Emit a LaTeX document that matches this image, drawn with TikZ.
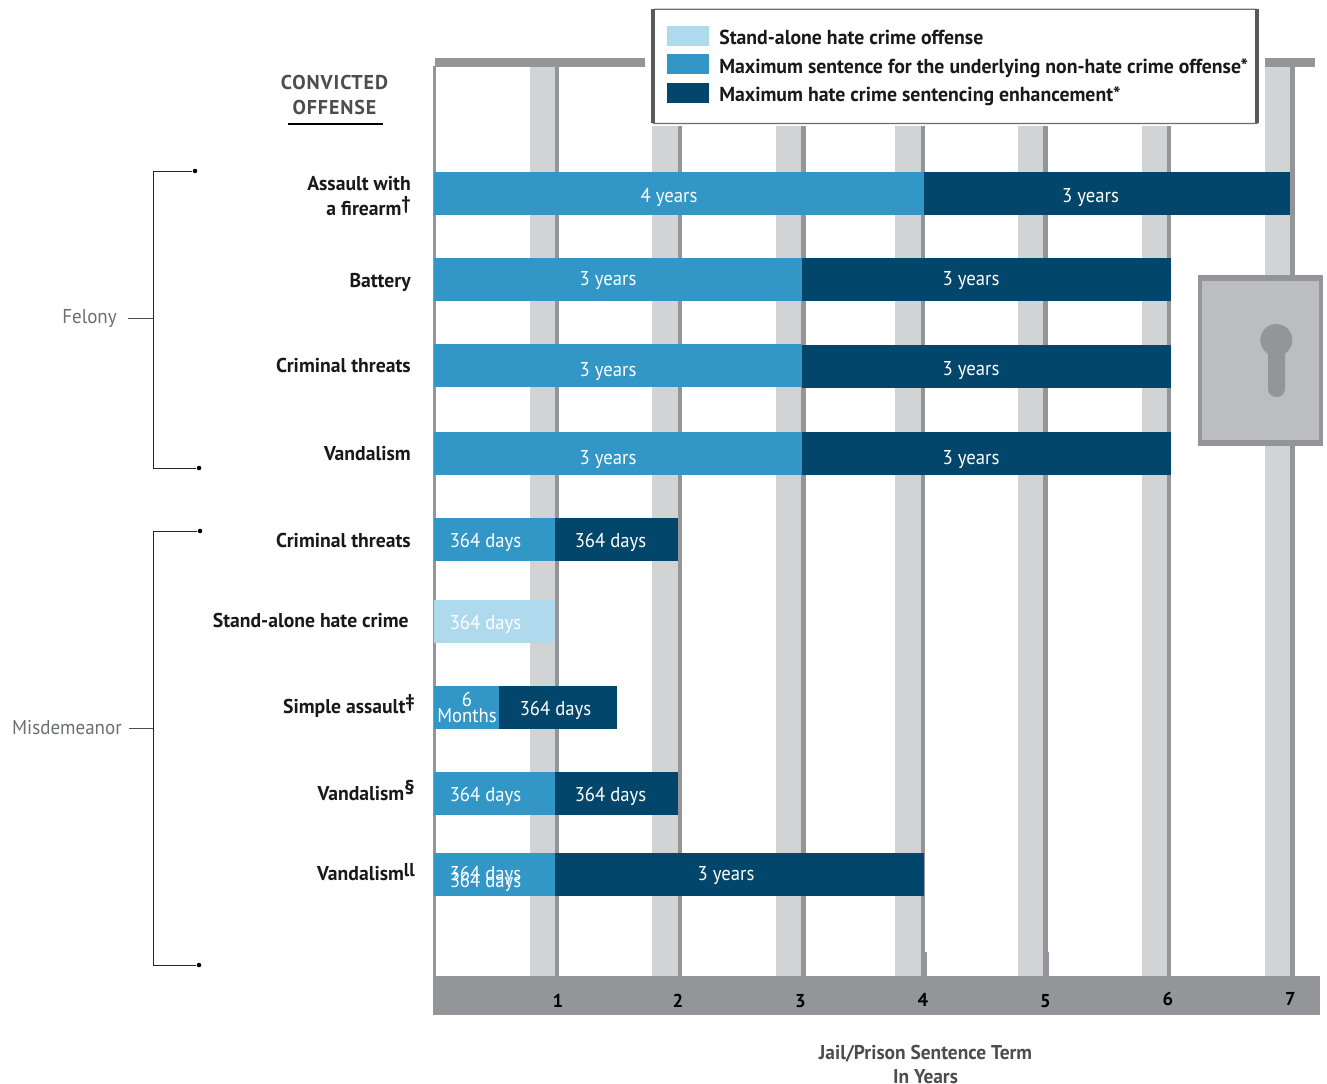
\documentclass[tikz,border=0pt]{standalone}
\usepackage{fontspec}
\setmainfont{PT Sans}
\newfontfamily\barfont[FakeStretch=0.935]{PT Sans}
\newfontfamily\rowfont[FakeStretch=0.983]{PT Sans}
\newfontfamily\legfont[FakeStretch=0.975]{PT Sans}
\newfontfamily\axfont[FakeStretch=0.97]{PT Sans}
\newfontfamily\grpfont[FakeStretch=0.95]{PT Sans}
\newfontfamily\headfont[LetterSpace=4.5]{PT Sans}
\definecolor{lightb}{HTML}{AFDAED}
\definecolor{midb}{HTML}{3297C7}
\definecolor{darkb}{HTML}{03466C}
\definecolor{postl}{HTML}{D1D3D4}
\definecolor{postd}{HTML}{939598}
\definecolor{lockf}{HTML}{BCBDBF}
\definecolor{txtg}{HTML}{4D4D4F}
\definecolor{txts}{HTML}{6D6E71}
\definecolor{legedge}{HTML}{58595B}
\tikzset{
 x=0.75pt,y=-0.75pt,
 rowlabel/.style={anchor=base east,inner sep=0pt,font=\fontsize{15}{15}\rowfont\bfseries,text=black!90},
 barlabel/.style={anchor=base,inner sep=0pt,font=\fontsize{15}{15}\barfont,text=white},
 leglabel/.style={anchor=base west,inner sep=0pt,font=\fontsize{15.2}{15}\legfont\bfseries,text=black!90},
 axisnum/.style={anchor=base,inner sep=0pt,font=\fontsize{14}{14}\selectfont\bfseries,text=black},
 grouplabel/.style={anchor=base east,inner sep=0pt,font=\fontsize{15}{15}\grpfont,text=txts},
 heading/.style={anchor=base,inner sep=0pt,font=\fontsize{15}{15}\headfont\bfseries,text=txtg},
 axtitle/.style={anchor=base,inner sep=0pt,font=\fontsize{15}{15}\axfont\bfseries,text=txtg},
 bracket/.style={draw=black!85,line width=0.7pt},
 tick/.style={draw=black!70,line width=0.7pt},
 enddot/.style={circle,fill=black,inner sep=0pt,minimum size=3.4pt},
}
\newcommand{\fillbox}[5]{\fill[#1] (#2,#3) rectangle (#4,#5);}
\newcommand{\postbar}[3]{%
 \fill[postl] (#1,#3) rectangle (#2,976);
 \fill[postd] (#2,#3) rectangle ($(#2,976)+(4.4,0)$);}
\newcommand{\upmark}[3]{\raisebox{#2}{\fontsize{#1}{#1}\selectfont #3}}
\usetikzlibrary{calc}
\begin{document}
\begin{tikzpicture}
\useasboundingbox (0,0) rectangle (1327,1084);
% frame
\fillbox{postd}{435}{58}{645}{67}
\fillbox{postd}{1265}{58}{1315}{67}
\fillbox{postd}{433.3}{66}{436}{976}
\fillbox{postd}{433}{963}{436}{976}
% posts
\postbar{530}{555}{67}
\postbar{652}{677.7}{126}
\postbar{776}{801.3}{126}
\postbar{895}{920.7}{126}
\postbar{1018}{1043.3}{126}
\postbar{1141.7}{1167}{126}
\postbar{1265}{1290.3}{67}
\fillbox{postd}{925}{952}{926.7}{976}
\fillbox{postd}{1047.5}{952}{1049.3}{976}
% base
\fillbox{postd}{433}{975.7}{1320}{1014.7}
% legend
\draw[draw=txts,fill=white,line width=0.9pt,rounded corners=1.5pt] (652.5,9.2) rectangle (1258,123.6);
\fill[legedge] (651.3,9.5) rectangle (655.2,123.4);
\fill[legedge] (1255.2,9.5) rectangle (1259,123.4);
\fillbox{lightb}{667}{26}{709}{46}
\fillbox{midb}{667}{54}{709}{74}
\fillbox{darkb}{667}{83}{709}{103}
\node[leglabel] (lega) at (719,45) {Stand-alone hate crime offense};
\node[leglabel] (legb) at (719,74) {Maximum sentence for the underlying non-hate crime offense*};
\node[leglabel] (legc) at (719,102) {Maximum hate crime sentencing enhancement*};
% bars
\fillbox{midb}{434}{172}{924}{215}
\fillbox{darkb}{924}{172}{1290}{215}
\fillbox{midb}{434}{258}{802}{301}
\fillbox{darkb}{802}{258}{1171}{301}
\fillbox{midb}{434}{344}{802}{387}
\fillbox{darkb}{802}{345}{1171}{388}
\fillbox{midb}{434}{432}{802}{475}
\fillbox{darkb}{802}{432}{1171}{475}
\fillbox{midb}{434}{518}{555}{561}
\fillbox{darkb}{555}{518}{678}{561}
\fillbox{lightb}{434}{600}{555}{643}
\fillbox{midb}{434}{686}{499}{729}
\fillbox{darkb}{499}{686}{617}{729}
\fillbox{midb}{434}{772}{555}{815}
\fillbox{darkb}{555}{772}{678}{815}
\fillbox{midb}{434}{853}{555}{896}
\fillbox{darkb}{555}{853}{924}{896}
% bar labels
\node[barlabel] (b1a) at (669,203) {4 years};
\node[barlabel] (b1b) at (1090.5,203) {3 years};
\node[barlabel] (b2a) at (608,286) {3 years};
\node[barlabel] (b2b) at (971,286) {3 years};
\node[barlabel] (b3a) at (608,376) {3 years};
\node[barlabel] (b3b) at (971,375) {3 years};
\node[barlabel] (b4a) at (608,464) {3 years};
\node[barlabel] (b4b) at (971,464) {3 years};
\node[barlabel] (b5a) at (485.5,547) {364 days};
\node[barlabel] (b5b) at (610.5,547) {364 days};
\node[barlabel] (b6a) at (485.5,629) {364 days};
\node[barlabel] (b7n) at (467,706) {6};
\node[barlabel] (b7m) at (467,722) {Months};
\node[barlabel] (b7b) at (555.5,715) {364 days};
\node[barlabel] (b8a) at (485.5,801) {364 days};
\node[barlabel] (b8b) at (610.5,801) {364 days};
\node[barlabel] (b9a) at (485.5,880) {364 days};
\node[barlabel] (b9c) at (485.5,887) {364 days};
\node[barlabel] (b9b) at (726,880) {3 years};
% row labels
\node[rowlabel] (r1a) at (411,191) {Assault with};
\node[rowlabel] (r1b) at (411,216) {a firearm\upmark{14}{4.5pt}{†}};
\node[rowlabel] (r2) at (411,287) {Battery};
\node[rowlabel] (r3) at (411,372) {Criminal threats};
\node[rowlabel] (r4) at (411,460) {Vandalism};
\node[rowlabel] (r5) at (411,547) {Criminal threats};
\node[rowlabel] (r6) at (409,627) {Stand-alone hate crime};
\node[rowlabel] (r7) at (415,713) {Simple assault\upmark{14}{4.5pt}{‡}};
\node[rowlabel] (r8) at (415,800) {Vandalism\upmark{15}{4pt}{§}};
\node[rowlabel] (r9) at (415,880) {Vandalism\upmark{14}{2.5pt}{ll}};
% heading
\node[heading] (h1) at (334.5,90) {CONVICTED};
\node[heading] (h2) at (334.5,115) {OFFENSE};
\coordinate (ula) at (288,124);
\coordinate (ulb) at (383,124);
\draw[draw=black,line width=0.9pt] (ula) -- (ulb);
% groups
\node[grouplabel] (felony) at (117,323) {Felony};
\node[grouplabel] (misd) at (122,734) {Misdemeanor};
\node[enddot] (fa) at (195,171) {};
\node[enddot] (fb) at (199,468) {};
\node[enddot] (ma) at (200,531) {};
\node[enddot] (mb) at (199,965) {};
\coordinate (ft) at (153,318);
\coordinate (mt) at (153,728);
\coordinate (fts) at (128,318);
\coordinate (mts) at (129,728);
\draw[bracket] (fa) -- (153,171) -- (153,468) -- (fb);
\draw[bracket] (ma) -- (153,531) -- (153,965) -- (mb);
\draw[tick] (fts) -- (ft);
\draw[tick] (mts) -- (mt);
% lock
\fill[postd] (1198,275) rectangle (1323,446);
\fill[lockf] (1202,281) rectangle (1318.5,440);
\fill[postd] (1276.3,340) circle (16);
\fill[postd,rounded corners=6pt] (1268,345) rectangle (1285,397);
% axis
\node[axisnum] (n1) at (558,1007) {1};
\node[axisnum] (n2) at (678,1007) {2};
\node[axisnum] (n3) at (800.5,1007) {3};
\node[axisnum] (n4) at (923,1006) {4};
\node[axisnum] (n5) at (1045.5,1007) {5};
\node[axisnum] (n6) at (1168,1005) {6};
\node[axisnum] (n7) at (1290.5,1005) {7};
\node[axtitle] (ax1) at (925.5,1059) {Jail/Prison Sentence Term};
\node[axtitle] (ax2) at (925.5,1083) {In Years};
\end{tikzpicture}
\end{document}
